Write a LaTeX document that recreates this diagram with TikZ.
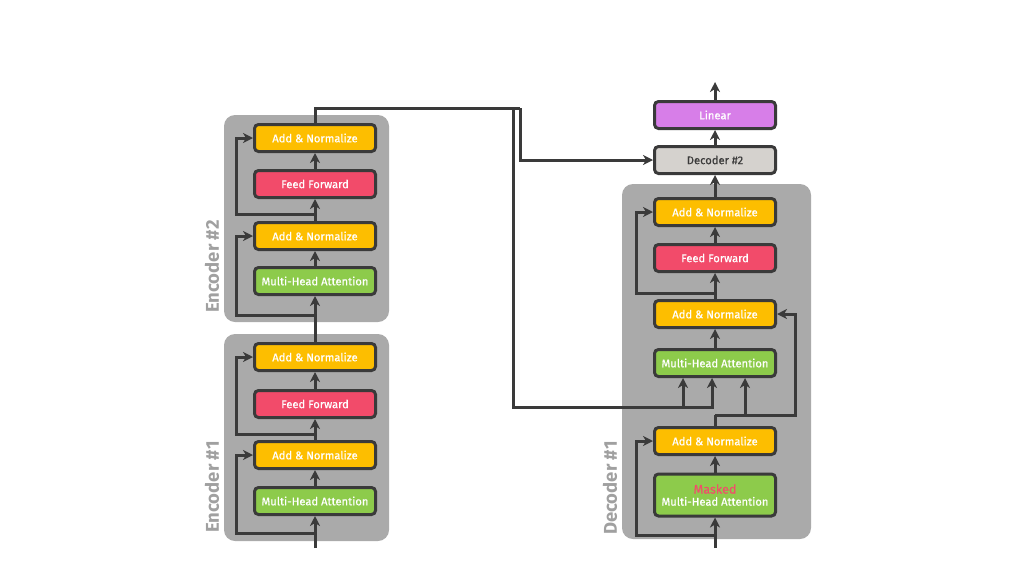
\documentclass[tikz,border=0pt]{standalone}
\usepackage{fontspec}
\usetikzlibrary{arrows.meta,calc}
\newfontfamily\boxfont[FakeBold=0.6]{Fira Sans}
\newfontfamily\labfont{Fira Sans}
\definecolor{linec}{HTML}{3A3A3A}
\definecolor{anc}{HTML}{FDBE00}
\definecolor{ffc}{HTML}{F24B6A}
\definecolor{mhac}{HTML}{8DCB4B}
\definecolor{linc}{HTML}{D77EE8}
\definecolor{dtwoc}{HTML}{D5D2CE}
\definecolor{contc}{HTML}{AAAAAA}
\definecolor{labc}{HTML}{A0A0A0}
\definecolor{maskc}{HTML}{F0506A}
\tikzset{
  blk/.style={draw=linec, line width=3pt, rounded corners=4pt, minimum width=121pt,
    minimum height=27pt, text=white, font=\boxfont\fontsize{11.2}{13}\selectfont, inner sep=0pt, align=center},
  anb/.style={blk, fill=anc},
  ffb/.style={blk, fill=ffc},
  mhab/.style={blk, fill=mhac},
  cont/.style={fill=contc, draw=none, rounded corners=11pt, inner sep=0pt},
  conn/.style={draw=linec, line width=3pt},
  arr/.style={conn, -{Stealth[length=10pt,width=10pt,inset=3pt]}},
  lab/.style={text=labc, font=\labfont\bfseries\fontsize{18.5}{20}\selectfont, rotate=90, anchor=west, inner sep=0pt},
}
\begin{document}
\begin{tikzpicture}[x=1pt,y=-1pt]
\useasboundingbox (0,0) rectangle (1024,576);
% containers
\node[cont, minimum width=165pt, minimum height=207pt] (enc2) at (306.5,218.5) {};
\node[cont, minimum width=165pt, minimum height=207pt] (enc1) at (306.5,437.5) {};
\node[cont, minimum width=189pt, minimum height=355pt] (dec1) at (716.5,361.5) {};
\node[lab] (enc2lab) at (212,313) {Encoder \#2};
\node[lab] (enc1lab) at (212,533) {Encoder \#1};
\node[lab] (dec1lab) at (610,535) {Decoder \#1};
% encoder 2
\node[anb] (e2an2) at (315,138) {Add \& Normalize};
\node[ffb] (e2ff) at (315,184) {Feed Forward};
\node[anb] (e2an1) at (315,236) {Add \& Normalize};
\node[mhab] (e2mha) at (315,281) {Multi-Head Attention};
% encoder 1
\node[anb] (e1an2) at (315,357) {Add \& Normalize};
\node[ffb] (e1ff) at (315,404) {Feed Forward};
\node[anb] (e1an1) at (315,455) {Add \& Normalize};
\node[mhab] (e1mha) at (315,501) {Multi-Head Attention};
% decoder
\node[blk, fill=linc] (lin) at (715,115) {Linear};
\node[blk, fill=dtwoc, text=linec] (d2) at (715,160) {Decoder \#2};
\node[anb] (dan3) at (715,212) {Add \& Normalize};
\node[ffb] (dff) at (715,258) {Feed Forward};
\node[anb] (dan2) at (715,314) {Add \& Normalize};
\node[mhab] (dmha) at (715,363) {Multi-Head Attention};
\node[anb] (dan1) at (715,441) {Add \& Normalize};
\node[mhab, minimum height=42pt] (dmmha) at (715,495) {\textcolor{maskc}{\fontsize{12.5}{14}\selectfont Masked}\\[-1pt]Multi-Head Attention};
% coordinates
\coordinate (e1in) at (315,548);
\coordinate (e1j1) at (315,533);
\coordinate (e1j2) at (315,434);
\coordinate (e2j1) at (315,315);
\coordinate (e2j2) at (315,214);
\coordinate (top) at (315,108);
\coordinate (tr1) at (520,108);
\coordinate (tr2) at (513,108);
\coordinate (cr) at (513,407);
\coordinate (din) at (715,548);
\coordinate (dj1) at (715,535);
\coordinate (dj2) at (715,415);
\coordinate (dj3) at (715,293);
\coordinate (dr) at (795,415);
\coordinate (out) at (715,82);
% encoder 1 connectors
\draw[arr] (e1in) -- (e1mha.south);
\draw[arr] (e1j1) -- (236,533) |- (e1an1.west);
\draw[arr] (e1mha.north) -- (e1an1.south);
\draw[arr] (e1an1.north) -- (e1ff.south);
\draw[arr] (e1j2) -- (236,434) |- (e1an2.west);
\draw[arr] (e1ff.north) -- (e1an2.south);
\draw[arr] (e1an2.north) -- (e2mha.south);
% encoder 2 connectors
\draw[arr] (e2j1) -- (236,315) |- (e2an1.west);
\draw[arr] (e2mha.north) -- (e2an1.south);
\draw[arr] (e2an1.north) -- (e2ff.south);
\draw[arr] (e2j2) -- (236,214) |- (e2an2.west);
\draw[arr] (e2ff.north) -- (e2an2.south);
% encoder output
\draw[conn] (e2an2.north) -- (top) -- (tr1);
\draw[arr] (tr1) |- (d2.west);
\draw[conn] (tr2) -- (cr) -- (712,407);
\draw[arr] (cr) -| ([xshift=-3pt]dmha.south);
\draw[arr] (cr) -| ([xshift=-32pt]dmha.south);
% decoder connectors
\draw[arr] (din) -- (dmmha.south);
\draw[arr] (dj1) -- (636,535) |- (dan1.west);
\draw[arr] (dmmha.north) -- (dan1.south);
\draw[conn] (dan1.north) -- (dj2);
\draw[arr] (dj2) -- (dr) |- (dan2.east);
\draw[arr] (dj2) -| ([xshift=30pt]dmha.south);
\draw[arr] (dmha.north) -- (dan2.south);
\draw[arr] (dan2.north) -- (dff.south);
\draw[arr] (dj3) -- (636,293) |- (dan3.west);
\draw[arr] (dff.north) -- (dan3.south);
\draw[arr] (dan3.north) -- (d2.south);
\draw[arr] (d2.north) -- (lin.south);
\draw[arr] (lin.north) -- (out);
\end{tikzpicture}
\end{document}
